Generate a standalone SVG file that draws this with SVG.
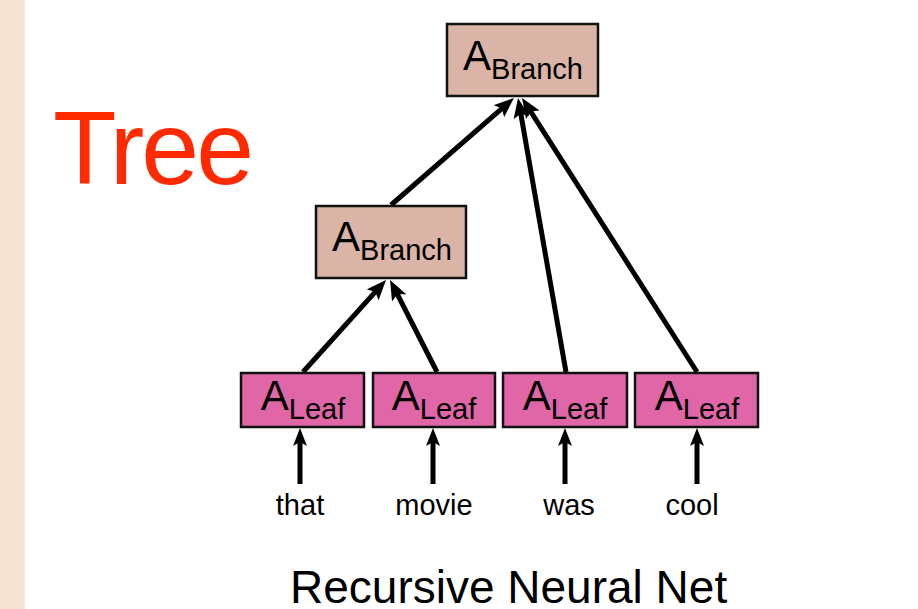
<svg xmlns="http://www.w3.org/2000/svg" width="918" height="609" viewBox="0 0 918 609">
  <style>
    .box { stroke: #111; stroke-width: 2.5; }
    .branch { fill: #d9b4a7; }
    .leaf { fill: #e066a8; }
    .lbl { font-family: "Liberation Sans", Arial, sans-serif; fill: #000; }
    .edge { stroke: #000; stroke-width: 5; fill: none; }
  </style>
  <defs>
    <marker id="head" markerUnits="userSpaceOnUse" viewBox="0 0 20 16" markerWidth="20" markerHeight="16" refX="8" refY="8" orient="auto">
      <path d="M0,0 L20,8 L0,16 L4,8 z" fill="#000"/>
    </marker>
    <marker id="headSmall" markerUnits="userSpaceOnUse" viewBox="0 0 18 14" markerWidth="18" markerHeight="14" refX="6" refY="7" orient="auto">
      <path d="M0,0 L18,7 L0,14 L4,7 z" fill="#000"/>
    </marker>
  </defs>

  <rect width="918" height="609" fill="#fff"/>
  <rect x="0" y="0" width="25" height="609" fill="#f5e5d2"/>

  <text x="53" y="184" class="lbl" font-size="104" style="fill:#ff2a00" letter-spacing="-3">Tree</text>

  <g id="connectors">
    <line class="edge" x1="391" y1="205" x2="504.9" y2="105.9" marker-end="url(#head)"/>
    <line class="edge" x1="566" y1="372" x2="520.1" y2="109.8" marker-end="url(#head)"/>
    <line class="edge" x1="697" y1="372" x2="528.5" y2="108.1" marker-end="url(#head)"/>
    <line class="edge" x1="303" y1="372" x2="378.0" y2="288.9" marker-end="url(#head)"/>
    <line class="edge" x1="437" y1="372" x2="395.5" y2="290.7" marker-end="url(#head)"/>
    <line class="edge" x1="300" y1="484" x2="300" y2="440" marker-end="url(#headSmall)"/>
    <line class="edge" x1="433" y1="484" x2="433" y2="440" marker-end="url(#headSmall)"/>
    <line class="edge" x1="565" y1="484" x2="565" y2="440" marker-end="url(#headSmall)"/>
    <line class="edge" x1="697" y1="484" x2="697" y2="440" marker-end="url(#headSmall)"/>
  </g>

  <g id="branch-top">
    <rect class="box branch" x="447" y="24" width="151" height="72"/>
    <text class="lbl" x="523" y="70" text-anchor="middle" font-size="42">A<tspan font-size="29" dy="9">Branch</tspan></text>
  </g>
  <g id="branch-mid">
    <rect class="box branch" x="316" y="206" width="150" height="72"/>
    <text class="lbl" x="392" y="251" text-anchor="middle" font-size="42">A<tspan font-size="29" dy="9">Branch</tspan></text>
  </g>

  <g id="leaf-that">
    <rect class="box leaf" x="241" y="373" width="123" height="54"/>
    <text class="lbl" x="303" y="410" text-anchor="middle" font-size="42">A<tspan font-size="29" dy="9">Leaf</tspan></text>
  </g>
  <g id="leaf-movie">
    <rect class="box leaf" x="373" y="373" width="122" height="54"/>
    <text class="lbl" x="434" y="410" text-anchor="middle" font-size="42">A<tspan font-size="29" dy="9">Leaf</tspan></text>
  </g>
  <g id="leaf-was">
    <rect class="box leaf" x="503" y="373" width="124" height="54"/>
    <text class="lbl" x="565" y="410" text-anchor="middle" font-size="42">A<tspan font-size="29" dy="9">Leaf</tspan></text>
  </g>
  <g id="leaf-cool">
    <rect class="box leaf" x="635" y="373" width="123" height="54"/>
    <text class="lbl" x="697" y="410" text-anchor="middle" font-size="42">A<tspan font-size="29" dy="9">Leaf</tspan></text>
  </g>

  <g id="words" class="lbl" font-size="29" text-anchor="middle">
    <text x="300" y="515">that</text>
    <text x="434" y="515">movie</text>
    <text x="569" y="515">was</text>
    <text x="692" y="515">cool</text>
  </g>

  <text class="lbl" x="290" y="603" font-size="46">Recursive Neural Net</text>
</svg>
